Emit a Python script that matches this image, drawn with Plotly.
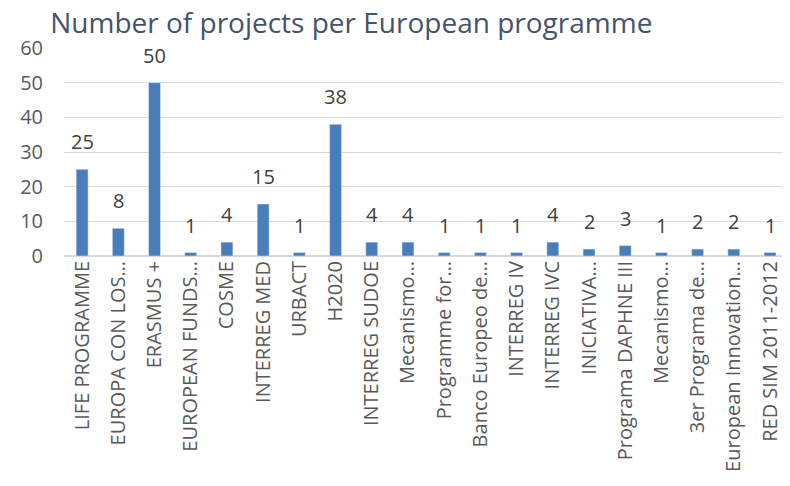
import plotly.graph_objects as go

# programmes and project counts
programmes = [
    "LIFE PROGRAMME", "EUROPA CON LOS…", "ERASMUS +", "EUROPEAN FUNDS…",
    "COSME", "INTERREG MED", "URBACT", "H2020", "INTERREG SUDOE",
    "Mecanismo…", "Programme for…", "Banco Europeo de…", "INTERREG IV",
    "INTERREG IVC", "INICIATIVA…", "Programa DAPHNE III", "Mecanismo…",
    "3er Programa de…", "European Innovation…", "RED SIM 2011-2012",
]
projects = [25, 8, 50, 1, 4, 15, 1, 38, 4, 4, 1, 1, 1, 4, 2, 3, 1, 2, 2, 1]

idx = list(range(len(programmes)))

fig = go.Figure()
fig.add_trace(go.Bar(
    x=idx,
    y=projects,
    width=0.33,
    marker_color="#4a7ebb",
    cliponaxis=False,
))

# value labels sit a little higher above the bars than plotly's own text
for i, v in zip(idx, projects):
    fig.add_annotation(
        x=i, y=v, text=str(v), showarrow=False,
        yanchor="bottom", yshift=12,
        font=dict(size=20, color="#404040"),
    )

# the page puts the figure 8px in from the corner; keep it from overflowing
fig.update_layout(
    width=782, height=470,
    margin=dict(l=56, r=8, t=40, b=222),
    paper_bgcolor="white",
    plot_bgcolor="white",
    font=dict(family="Open Sans", color="#595959"),
    showlegend=False,
    title=dict(
        text="Number of projects per European programme",
        x=0.054, xanchor="left", y=0.968, yanchor="middle",
        font=dict(size=28, color="#44546a"),
    ),
)
fig.update_xaxes(
    tickmode="array", tickvals=idx, ticktext=programmes,
    tickangle=-90, tickfont=dict(size=20, color="#595959"),
    range=[-0.5, 19.33], showgrid=False, showline=False, ticks="",
    automargin=False, ticklabeloverflow="allow",
)
fig.update_yaxes(
    range=[0, 60], dtick=10, tickfont=dict(size=20, color="#595959"),
    gridcolor="#d9d9d9", zeroline=True, zerolinecolor="#d9d9d9",
    ticklabelstandoff=20, automargin=False,
)

fig.write_html("out.html")
